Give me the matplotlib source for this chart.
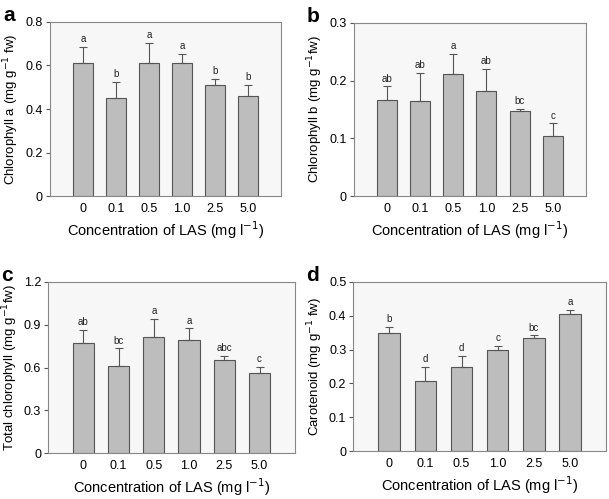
import matplotlib.pyplot as plt
import numpy as np

plt.rcParams['font.family'] = ['Liberation Sans', 'DejaVu Sans']

conc = ['0', '0.1', '0.5', '1.0', '2.5', '5.0']

chl_a = [0.61, 0.45, 0.61, 0.61, 0.51, 0.46]
chl_a_err = [0.075, 0.075, 0.095, 0.045, 0.03, 0.05]
chl_a_sig = ['a', 'b', 'a', 'a', 'b', 'b']

chl_b = [0.167, 0.165, 0.212, 0.182, 0.147, 0.104]
chl_b_err = [0.023, 0.049, 0.035, 0.039, 0.004, 0.022]
chl_b_sig = ['ab', 'ab', 'a', 'ab', 'bc', 'c']

chl_t = [0.77, 0.61, 0.815, 0.79, 0.65, 0.56]
chl_t_err = [0.095, 0.125, 0.125, 0.085, 0.033, 0.045]
chl_t_sig = ['ab', 'bc', 'a', 'a', 'abc', 'c']

car = [0.35, 0.206, 0.248, 0.299, 0.335, 0.405]
car_err = [0.017, 0.044, 0.033, 0.012, 0.008, 0.012]
car_sig = ['b', 'd', 'd', 'c', 'bc', 'a']

panels = [
    ('a', chl_a, chl_a_err, chl_a_sig, 0.8, [0, 0.2, 0.4, 0.6, 0.8],
     ['0', '0.2', '0.4', '0.6', '0.8'], 'Chlorophyll a (mg g$^{-1}$ fw)',
     [0.082, 0.607, 0.379, 0.349]),
    ('b', chl_b, chl_b_err, chl_b_sig, 0.3, [0, 0.1, 0.2, 0.3],
     ['0', '0.1', '0.2', '0.3'], 'Chlorophyll b (mg g$^{-1}$fw)',
     [0.581, 0.607, 0.381, 0.347]),
    ('c', chl_t, chl_t_err, chl_t_sig, 1.2, [0, 0.3, 0.6, 0.9, 1.2],
     ['0', '0.3', '0.6', '0.9', '1.2'], 'Total chlorophyll (mg g$^{-1}$fw)',
     [0.079, 0.092, 0.405, 0.343]),
    ('d', car, car_err, car_sig, 0.5, [0, 0.1, 0.2, 0.3, 0.4, 0.5],
     ['0', '0.1', '0.2', '0.3', '0.4', '0.5'], 'Carotenoid (mg g$^{-1}$ fw)',
     [0.580, 0.096, 0.415, 0.339]),
]

fig = plt.figure(figsize=(6.09, 4.99), dpi=100)

for letter, vals, errs, sig, ymax, yt, ytl, ylab, pos in panels:
    ax = fig.add_axes(pos)
    ax.set_facecolor('#f7f7f7')
    x = np.arange(len(conc))
    ax.bar(x, vals, width=0.6, color='#bdbdbd', edgecolor='#555555',
           linewidth=0.8, zorder=2,
           yerr=[np.zeros(len(vals)), errs], capsize=3,
           error_kw=dict(ecolor='#555555', elinewidth=0.8, capthick=0.8))
    for xi, v, e, s in zip(x, vals, errs, sig):
        ax.text(xi, v + e + ymax * 0.015, s, ha='center', va='bottom',
                fontsize=7, color='#222222')
    ax.set_xlim(-1, 6)
    ax.set_ylim(0, ymax)
    ax.set_xticks(x)
    ax.set_xticklabels(conc, fontsize=9)
    ax.set_yticks(yt)
    ax.set_yticklabels(ytl, fontsize=9)
    ax.tick_params(axis='x', length=0, pad=5)
    ax.tick_params(axis='y', length=3, width=0.8, color='#555555', pad=2)
    for sp in ax.spines.values():
        sp.set_color('#888888')
        sp.set_linewidth(0.8)
    ax.set_xlabel('Concentration of LAS (mg l$^{-1}$)', fontsize=10.5, labelpad=3)
    ax.set_ylabel(ylab, fontsize=9.5, labelpad=3)
    fig.text(pos[0] - 0.077, pos[1] + pos[3] + 0.012, letter, fontsize=15,
             fontweight='bold', ha='left', va='center')

fig.savefig('out.png', dpi=100)
